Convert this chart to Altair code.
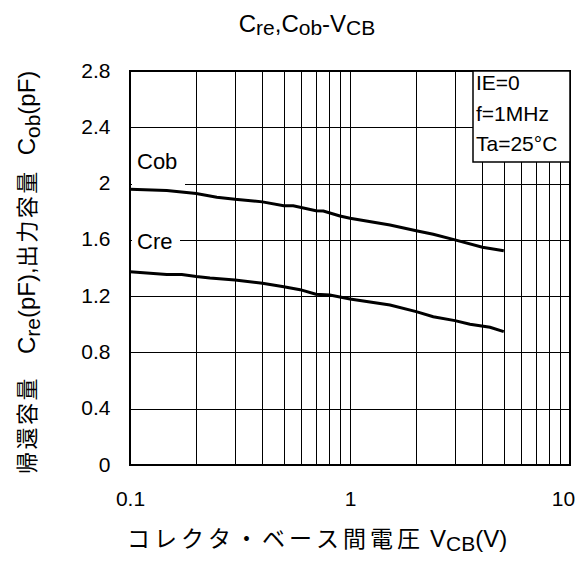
import altair as alt
import pandas as pd

# ---------------- data ----------------
cob_v = [0.1, 0.147, 0.2, 0.248, 0.3, 0.4, 0.5, 0.552, 0.7, 0.757, 0.9, 1.0, 1.52, 2.0, 2.39, 3.0, 4.0, 5.0]
cob_c = [1.96, 1.95, 1.93, 1.903, 1.888, 1.87, 1.843, 1.842, 1.807, 1.805, 1.77, 1.753, 1.706, 1.665, 1.64, 1.60, 1.547, 1.523]
cre_v = [0.1, 0.147, 0.172, 0.2, 0.231, 0.3, 0.4, 0.5, 0.593, 0.7, 0.81, 1.0, 1.52, 2.0, 2.39, 3.0, 3.51, 4.33, 5.0]
cre_c = [1.374, 1.353, 1.353, 1.339, 1.329, 1.315, 1.291, 1.267, 1.246, 1.213, 1.208, 1.18, 1.137, 1.09, 1.054, 1.026, 1.0, 0.979, 0.948]

x_grid = [0.1, 0.2, 0.3, 0.4, 0.5, 0.6, 0.7, 0.8, 0.9, 1, 2, 3, 4, 5, 6, 7, 8, 9, 10]
x_labels = [0.1, 1, 10]
y_ticks = [0, 0.4, 0.8, 1.2, 1.6, 2, 2.4, 2.8]

series_names = ["Cob", "Cre"]
cond_lines = ["IE=0", "f=1MHz", "Ta=25°C"]

W, H = 440, 394
LATIN = "Liberation Sans"
CJK = "Noto Sans CJK JP"

ARIAL = {" ": .278, "(": .333, ")": .333, ",": .278, "-": .333, ".": .278,
         "C": .722, "B": .667, "V": .667, "F": .611, "p": .556, "r": .333,
         "e": .556, "o": .556, "b": .556}


def tw(s, size):
    return sum(ARIAL.get(ch, .556) for ch in s) * size


one = pd.DataFrame({"k": [0]})


def piece(text, x, y, size, font, dx=0.0, dy=0.0, angle=0):
    kw = dict(fontSize=size, font=font, align="left", baseline="alphabetic",
              dx=round(dx, 2), dy=dy, color="black")
    if angle:
        kw["angle"] = angle
    return alt.Chart(one).mark_text(**kw).encode(
        x=alt.value(x), y=alt.value(y), text=alt.value(text))


def seq_width(seq):
    w = 0.0
    for it in seq:
        k = it[0]
        if k == "L" or k == "S":
            w += tw(it[1], it[2])
        elif k == "J":
            w += len(it[1]) * it[3]
        elif k == "G":
            w += it[1]
    return w


def run(seq, x, y, angle=0, shift=5):
    out = []
    off = 0.0
    for it in seq:
        k = it[0]
        if k == "L":
            out.append(piece(it[1], x, y, it[2], LATIN, dx=off, angle=angle))
            off += tw(it[1], it[2])
        elif k == "S":
            out.append(piece(it[1], x, y, it[2], LATIN, dx=off, dy=shift, angle=angle))
            off += tw(it[1], it[2])
        elif k == "J":
            for ch in it[1]:
                out.append(piece(ch, x, y, it[2], CJK, dx=off, angle=angle))
                off += it[3]
        elif k == "G":
            off += it[1]
    return out


# ---------------- main lines ----------------
df = pd.DataFrame({
    "v": cob_v + cre_v,
    "c": cob_c + cre_c,
    "s": [series_names[0]] * len(cob_v) + [series_names[1]] * len(cre_v),
})

x_enc = alt.X("v:Q",
              scale=alt.Scale(type="log", domain=[0.1, 10], nice=False),
              axis=alt.Axis(values=x_grid, format="~g",
                            labelExpr="indexof([0.1, 1, 10], datum.value) >= 0 ? datum.label : ''",
                            grid=True, ticks=False, domain=False, title=None,
                            labelFontSize=21, labelFont=LATIN, labelColor="black",
                            labelPadding=23, labelFlush=False, labelOverlap=False,
                            labelOffset={"condition": {"test": "datum.value == 10", "value": -7}, "value": 0},
                            gridColor="#000", gridWidth=1, gridOpacity=1))
y_enc = alt.Y("c:Q",
              scale=alt.Scale(domain=[0, 2.8], nice=False),
              axis=alt.Axis(values=y_ticks, format="~g",
                            grid=True, ticks=False, domain=False, title=None,
                            labelFontSize=21, labelFont=LATIN, labelColor="black",
                            labelPadding=20, labelOverlap=False,
                            gridColor="#000", gridWidth=1, gridOpacity=1))

lines = alt.Chart(df).mark_line(color="black", strokeWidth=3).encode(
    x=x_enc, y=y_enc, detail="s:N")

# white label backgrounds (cover grid) and labels
cob_bg = alt.Chart(one).mark_rect(fill="white").encode(
    x=alt.value(2), x2=alt.value(55), y=alt.value(76), y2=alt.value(115))
cre_bg = alt.Chart(one).mark_rect(fill="white").encode(
    x=alt.value(2), x2=alt.value(50), y=alt.value(157), y2=alt.value(186))
cob_lab = piece(series_names[0], 7, 98, 22, LATIN)
cre_lab = piece(series_names[1], 7, 178, 22, LATIN)

# condition box
box = alt.Chart(one).mark_rect(fill="white", stroke="black", strokeWidth=1.5).encode(
    x=alt.value(343), x2=alt.value(440), y=alt.value(0), y2=alt.value(91))
conds = [piece(t, 346, yy, 21, LATIN) for t, yy in zip(cond_lines, [19, 50, 80])]

# title
title_seq = [("L", "C", 24), ("S", "re", 21), ("L", ",C", 24), ("S", "ob", 21),
             ("L", "-V", 24), ("S", "CB", 21)]
tw_title = seq_width(title_seq)
title_layers = run(title_seq, 177 - tw_title / 2, -39, shift=3)

# x axis title
xt_seq = [("J", "コレクタ・ベース間電圧", 23, 27), ("G", 6), ("L", "V", 24),
          ("S", "CB", 21), ("L", "(V)", 24)]
xt_layers = run(xt_seq, -3, 476, shift=4)

# y axis title (rotated)
yt_seq = [("J", "帰還容量", 22, 24.5), ("G", 22), ("L", "C", 24), ("S", "re", 21),
          ("L", "(pF),", 24), ("J", "出力容量", 22, 24.5), ("G", 14), ("L", "C", 24),
          ("S", "ob", 21), ("L", "(pF)", 24)]
yt_layers = run(yt_seq, -95, 403, angle=270, shift=5)

chart = alt.layer(
    cob_bg, cre_bg, lines, cob_lab, cre_lab, box, *conds,
    *title_layers, *xt_layers, *yt_layers
).properties(
    width=W, height=H,
    autosize=alt.AutoSizeParams(type="none"),
    padding={"left": 122, "top": 63, "right": 5, "bottom": 91},
).configure_view(stroke="black", strokeWidth=2)

chart.save("out.html", embed_options={"renderer": "svg", "actions": False})
